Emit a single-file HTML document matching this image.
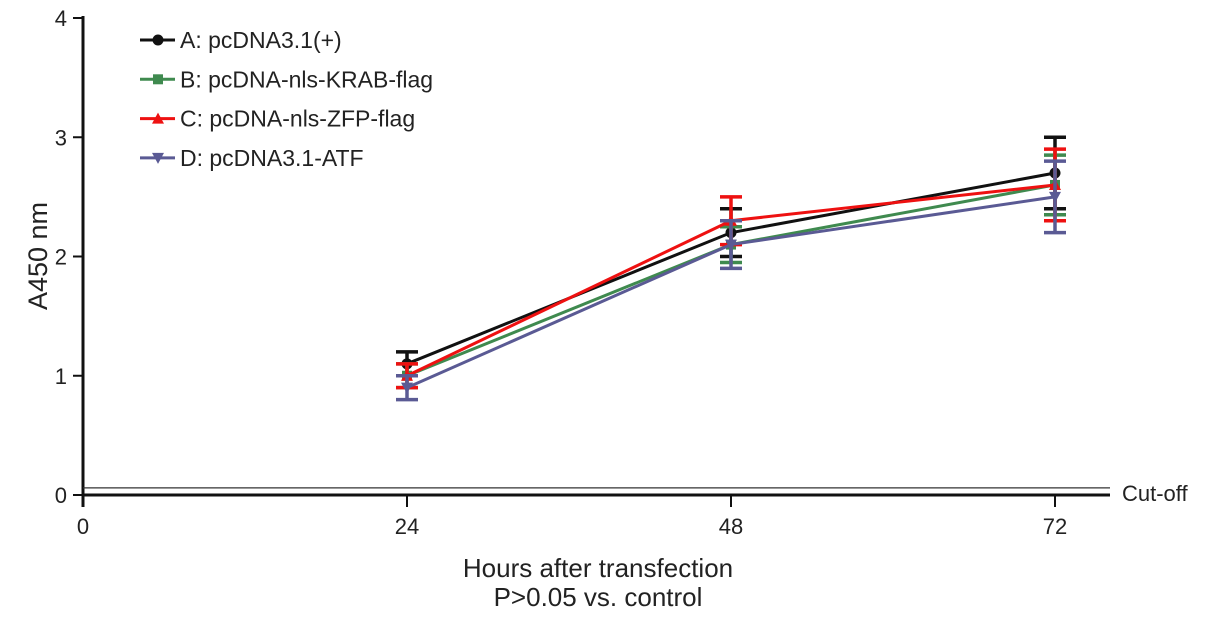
<!DOCTYPE html>
<html><head><meta charset="utf-8"><style>body{margin:0;background:#fff}svg{display:block;font-family:"Liberation Sans",Arial,sans-serif}</style></head>
<body>
<svg id="chart" width="1205" height="617" viewBox="0 0 1205 617"></svg>
<script>
const categories=[24,48,72];
const seriesNames=["A: pcDNA3.1(+)","B: pcDNA-nls-KRAB-flag","C: pcDNA-nls-ZFP-flag","D: pcDNA3.1-ATF"];
const seriesA=[1.1,2.2,2.7];
const seriesB=[1.0,2.1,2.6];
const seriesC=[1.0,2.3,2.6];
const seriesD=[0.9,2.1,2.5];
const errA=[0.1,0.2,0.3];
const errB=[0.1,0.15,0.25];
const errC=[0.1,0.2,0.3];
const errD=[0.1,0.2,0.3];
const yTicks=[0,1,2,3,4];
const xTicks=[0,24,48,72];
const cutoff=0.06;
const svg=document.getElementById('chart');
const NS='http://www.w3.org/2000/svg';
const X=h=>83+h*(1055-83)/72;
const Y=v=>495-v*(495-18)/4;
function el(t,a,p){const e=document.createElementNS(NS,t);for(const k in a)e.setAttribute(k,a[k]);(p||svg).appendChild(e);return e;}
function txt(s,a){const e=el('text',a);e.textContent=s;return e;}
let e=el('line',{x1:83,y1:16,x2:83,y2:507,stroke:'#111','stroke-width':3});

e=el('line',{x1:83,y1:495,x2:1110,y2:495,stroke:'#111','stroke-width':3});

e=el('line',{x1:83,y1:Y(cutoff),x2:1110,y2:Y(cutoff),stroke:'#333','stroke-width':1.3});

e=txt('Cut-off',{x:1122,y:501,'font-size':22,fill:'#222'});

yTicks.forEach(v=>{el('line',{x1:73,y1:Y(v),x2:83,y2:Y(v),stroke:'#111','stroke-width':2});
 e=txt(v,{x:67,y:Y(v)+8,'font-size':22,'text-anchor':'end',fill:'#222'});
 });
xTicks.forEach(v=>{el('line',{x1:X(v),y1:495,x2:X(v),y2:507,stroke:'#111','stroke-width':2});
 e=txt(v,{x:X(v),y:534,'font-size':22,'text-anchor':'middle',fill:'#222'});
 });
e=txt('A450 nm',{x:0,y:0,'font-size':27,'text-anchor':'middle',fill:'#222',transform:'translate(47,256) rotate(-90)'});

e=txt('Hours after transfection',{x:598,y:577,'font-size':26,'text-anchor':'middle',fill:'#222'});

e=txt('P>0.05 vs. control',{x:598,y:606,'font-size':26,'text-anchor':'middle',fill:'#222'});

const data=[seriesA,seriesB,seriesC,seriesD],errs=[errA,errB,errC,errD];
const colors=['#111','#3f8a4f','#ee1111','#5a5a94'];
function marker(i,x,y,g){const c=colors[i];
 if(i===0)return el('circle',{cx:x,cy:y,r:5.5,fill:c},g);
 if(i===1)return el('rect',{x:x-5,y:y-5,width:10,height:10,fill:c},g);
 if(i===2)return el('polygon',{points:`${x},${y-6} ${x-6},${y+5} ${x+6},${y+5}`,fill:c},g);
 return el('polygon',{points:`${x},${y+6} ${x-6},${y-5} ${x+6},${y-5}`,fill:c},g);}
data.forEach((s,i)=>{const g=el('g',{});
 
 el('polyline',{points:s.map((v,j)=>X(categories[j])+','+Y(v)).join(' '),fill:'none',stroke:colors[i],'stroke-width':3},g);
 s.forEach((v,j)=>{const x=X(categories[j]),d=errs[i][j];
  el('line',{x1:x,y1:Y(v-d),x2:x,y2:Y(v+d),stroke:colors[i],'stroke-width':3.5},g);
  el('line',{x1:x-11,y1:Y(v+d),x2:x+11,y2:Y(v+d),stroke:colors[i],'stroke-width':3.5},g);
  el('line',{x1:x-11,y1:Y(v-d),x2:x+11,y2:Y(v-d),stroke:colors[i],'stroke-width':3.5},g);
  const m=marker(i,x,Y(v),g);
  });
});
seriesNames.forEach((n,i)=>{const g=el('g',{});
 
 const y=40+i*39.3;
 el('line',{x1:140,y1:y,x2:175,y2:y,stroke:colors[i],'stroke-width':3},g);
 marker(i,158,y,g);
 const t=el('text',{x:180,y:y+8,'font-size':23,fill:'#222'},g);t.textContent=n;});
</script>
</body></html>
